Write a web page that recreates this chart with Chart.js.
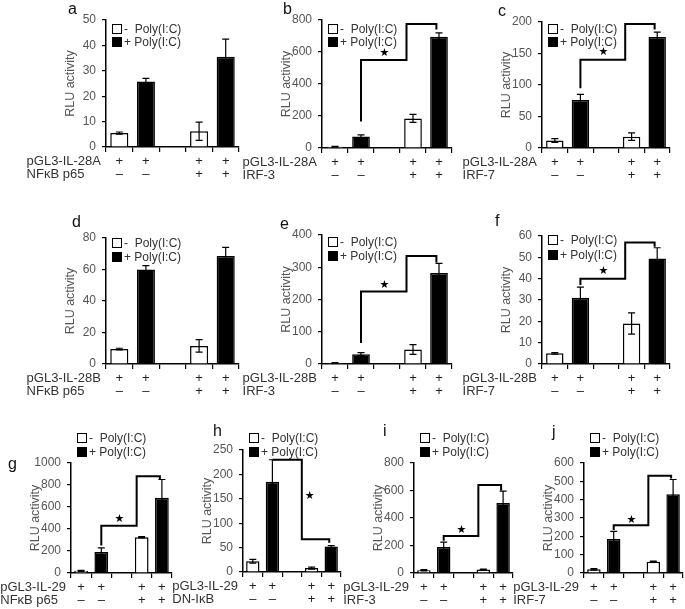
<!DOCTYPE html>
<html>
<head>
<meta charset="utf-8">
<script src="https://cdn.jsdelivr.net/npm/chart.js@4.4.1/dist/chart.umd.min.js"></script>
<style>
    body { margin: 0; background: #fff; width: 685px; height: 609px; position: relative; overflow: hidden; }
    canvas { position: absolute; }
</style>
</head>
<body>
<script>
// shared categories (5 slots, middle one is the gap)
var categories = [["+", "–"], ["+", "–"], "", ["+", "+"], ["+", "+"]];
var seriesNames = ["-  Poly(I:C)", "+ Poly(I:C)"];
var seriesOf = [0, 1, null, 0, 1];

// a
var aMeans = [5.5, 25.8, null, 6.2, 35.5];
var aErrors = [0.4, 1.2, null, 3.6, 7];
var aTicks = [0, 10, 20, 30, 40, 50];
var aRows = ["pGL3-IL-28A", "NFκB p65"];
// b
var bMeans = [8, 72, null, 185, 695];
var bErrors = [3, 10, null, 25, 25];
var bTicks = [0, 200, 400, 600, 800];
var bRows = ["pGL3-IL-28A", "IRF-3"];
var bBracket = [[1, 165], [1, 550], [2.75, 550], [2.75, 775], [3.9, 775], [3.9, 740]];
var bStar = [1.9, 595];
// c
var cMeans = [12, 76, null, 18, 176];
var cErrors = [3, 9, null, 6, 8];
var cTicks = [0, 50, 100, 150, 200];
var cRows = ["pGL3-IL-28A", "IRF-7"];
var cBracket = [[1, 95], [1, 140], [2.75, 140], [2.75, 197], [3.9, 197], [3.9, 188]];
var cStar = [1.9, 152];
// d
var dMeans = [9.5, 60, null, 11.5, 68.5];
var dErrors = [0.5, 2.5, null, 4, 5.5];
var dTicks = [0, 20, 40, 60, 80];
var dRows = ["pGL3-IL-28B", "NFκB p65"];
// e
var eMeans = [3, 30, null, 45, 282];
var eErrors = [1, 5, null, 15, 30];
var eTicks = [0, 100, 200, 300, 400];
var eRows = ["pGL3-IL-28B", "IRF-3"];
var eBracket = [[1, 65], [1, 225], [2.75, 225], [2.75, 335], [3.9, 335], [3.9, 315]];
var eStar = [1.9, 245];
// f
var fMeans = [5, 31, null, 19, 49.5];
var fErrors = [0.4, 5, null, 5, 5];
var fTicks = [0, 10, 20, 30, 40, 50, 60];
var fRows = ["pGL3-IL-28B", "IRF-7"];
var fBracket = [[1, 37], [1, 40], [2.75, 40], [2.75, 57], [3.9, 57], [3.9, 55]];
var fStar = [1.9, 43.5];
// g
var gMeans = [20, 190, null, 325, 685];
var gErrors = [5, 38, null, 5, 165];
var gTicks = [0, 200, 400, 600, 800, 1000];
var gRows = ["pGL3-IL-29", "NFκB p65"];
var gBracket = [[1, 250], [1, 430], [2.75, 430], [2.75, 880], [3.9, 880], [3.9, 855]];
var gStar = [1.9, 490];
// h
var hMeans = [22, 185, null, 8, 52];
var hErrors = [4, 45, null, 2, 2];
var hTicks = [0, 50, 100, 150, 200, 250];
var hRows = ["pGL3-IL-29", "DN-IκB"];
var hBracket = [[1, 230], [2.5, 230], [2.5, 67], [3.9, 67], [3.9, 60]];
var hStar = [2.9, 155];
// i
var iMeans = [20, 190, null, 25, 510];
var iErrors = [4, 35, null, 3, 85];
var iTicks = [0, 200, 400, 600, 800];
var iRows = ["pGL3-IL-29", "IRF-3"];
var iBracket = [[1, 235], [1, 270], [2.75, 270], [2.75, 640], [3.9, 640], [3.9, 600]];
var iStar = [1.9, 315];
// j
var jMeans = [20, 185, null, 62, 430];
var jErrors = [4, 42, null, 3, 80];
var jTicks = [0, 100, 200, 300, 400, 500, 600];
var jRows = ["pGL3-IL-29", "IRF-7"];
var jBracket = [[1, 235], [1, 260], [2.75, 260], [2.75, 530], [3.9, 530], [3.9, 515]];
var jStar = [1.9, 290];

var panels = [
    { id: "a", means: aMeans, errors: aErrors, ticks: aTicks, rows: aRows, bracket: null, star: null,
      axis: 106, top: 20, bottom: 147, w: 133, legY: [29, 42], letter: [68, 10] },
    { id: "b", means: bMeans, errors: bErrors, ticks: bTicks, rows: bRows, bracket: bBracket, star: bStar,
      axis: 322, top: 20, bottom: 148, w: 130, legY: [29, 42], letter: [283, 10] },
    { id: "c", means: cMeans, errors: cErrors, ticks: cTicks, rows: cRows, bracket: cBracket, star: cStar,
      axis: 542, top: 22, bottom: 148, w: 128, legY: [29, 42], letter: [498, 12] },
    { id: "d", means: dMeans, errors: dErrors, ticks: dTicks, rows: dRows, bracket: null, star: null,
      axis: 106, top: 238, bottom: 364, w: 133, legY: [243, 257], letter: [72, 223] },
    { id: "e", means: eMeans, errors: eErrors, ticks: eTicks, rows: eRows, bracket: eBracket, star: eStar,
      axis: 322, top: 235, bottom: 364, w: 130, legY: [242, 256], letter: [280, 225] },
    { id: "f", means: fMeans, errors: fErrors, ticks: fTicks, rows: fRows, bracket: fBracket, star: fStar,
      axis: 542, top: 236, bottom: 364, w: 128, legY: [240, 255], letter: [495, 222] },
    { id: "g", means: gMeans, errors: gErrors, ticks: gTicks, rows: gRows, bracket: gBracket, star: gStar,
      axis: 71, top: 463, bottom: 573, w: 101, legY: [438, 452], letter: [8, 465] },
    { id: "h", means: hMeans, errors: hErrors, ticks: hTicks, rows: hRows, bracket: hBracket, star: hStar,
      axis: 243, top: 450, bottom: 572, w: 98, legY: [438, 452], letter: [213, 432] },
    { id: "i", means: iMeans, errors: iErrors, ticks: iTicks, rows: iRows, bracket: iBracket, star: iStar,
      axis: 414, top: 463, bottom: 573, w: 99, legY: [438, 452], letter: [383, 432] },
    { id: "j", means: jMeans, errors: jErrors, ticks: jTicks, rows: jRows, bracket: jBracket, star: jStar,
      axis: 584, top: 463, bottom: 573, w: 99, legY: [438, 452], letter: [552, 433] }
];

var FONT = "'Liberation Sans', Arial, sans-serif";
var PAD_L = 110, PAD_T = 45, PAD_R = 14, PAD_B = 45;
var Y_W = 47, X_H = 34, TICK_X = 5, TICK_PAD = 3, LINE_H = 13;

function series(values, s) {
    return values.map(function (v, i) { return seriesOf[i] === s ? v : null; });
}

function panelPlugin(p, cl, ct) {
    return {
        id: "panel_" + p.id,
        afterDatasetsDraw: function (chart) {
            var ctx = chart.ctx, x = chart.scales.x, y = chart.scales.y;
            ctx.save();
            // error bars
            ctx.strokeStyle = "#000";
            ctx.lineWidth = 1.2;
            chart.data.datasets.forEach(function (ds, di) {
                var meta = chart.getDatasetMeta(di);
                ds.errors.forEach(function (e, i) {
                    if (ds.data[i] == null || e == null) return;
                    var px = meta.data[i].x;
                    var t = y.getPixelForValue(ds.data[i] + e);
                    var b = y.getPixelForValue(Math.max(ds.data[i] - e, 0));
                    ctx.beginPath();
                    ctx.moveTo(px, b); ctx.lineTo(px, t);
                    ctx.moveTo(px - 3.5, t); ctx.lineTo(px + 3.5, t);
                    ctx.moveTo(px - 3.5, b); ctx.lineTo(px + 3.5, b);
                    ctx.stroke();
                });
            });
            // significance bracket
            if (p.bracket) {
                ctx.lineWidth = 2;
                ctx.lineJoin = "miter";
                ctx.beginPath();
                p.bracket.forEach(function (pt, k) {
                    var px = x.getPixelForValue(pt[0]), py = y.getPixelForValue(pt[1]);
                    if (k === 0) ctx.moveTo(px, py); else ctx.lineTo(px, py);
                });
                ctx.stroke();
                ctx.fillStyle = "#000";
                ctx.font = "11px 'DejaVu Sans', sans-serif";
                ctx.textAlign = "center";
                ctx.textBaseline = "middle";
                ctx.fillText("★", x.getPixelForValue(p.star[0]), y.getPixelForValue(p.star[1]));
            }
            ctx.restore();
        },
        afterDraw: function (chart) {
            var ctx = chart.ctx, area = chart.chartArea, x = chart.scales.x;
            ctx.save();
            // legend
            var lx = area.left + 6;
            chart.data.datasets.forEach(function (ds, di) {
                var cy = p.legY[di] - ct;
                ctx.fillStyle = ds.backgroundColor;
                ctx.fillRect(lx, cy - 5, 10, 10);
                ctx.strokeStyle = "#000";
                ctx.lineWidth = 1;
                ctx.strokeRect(lx + 0.5, cy - 4.5, 9, 9);
                ctx.fillStyle = "#333";
                ctx.font = "12px " + FONT;
                ctx.textAlign = "left";
                ctx.textBaseline = "middle";
                ctx.fillText(ds.label, lx + 12, cy + 0.5);
            });
            // row names left of the +/- rows
            ctx.font = "13px " + FONT;
            ctx.fillStyle = "#333";
            ctx.textAlign = "left";
            ctx.textBaseline = "middle";
            var left = area.left - 5 - ctx.measureText(p.rows[0]).width;
            p.rows.forEach(function (r, i) {
                ctx.fillText(r, left, x.top + TICK_X + TICK_PAD + LINE_H * (i + 0.5));
            });
            // panel letter
            ctx.font = "16px " + FONT;
            ctx.fillStyle = "#111";
            ctx.fillText(p.id, p.letter[0] - cl, p.letter[1] - ct);
            ctx.restore();
        }
    };
}

panels.forEach(function (p) {
    var cl = p.axis - PAD_L, ct = p.top - PAD_T;
    var canvas = document.createElement("canvas");
    canvas.width = PAD_L + p.w + PAD_R;
    canvas.height = PAD_T + (p.bottom - p.top) + PAD_B;
    canvas.style.left = cl + "px";
    canvas.style.top = ct + "px";
    document.body.appendChild(canvas);

    new Chart(canvas, {
        type: "bar",
        data: {
            labels: categories,
            datasets: [
                { label: seriesNames[0], data: series(p.means, 0), errors: series(p.errors, 0),
                  backgroundColor: "#fff", borderColor: "#000", borderWidth: 1.5 },
                { label: seriesNames[1], data: series(p.means, 1), errors: series(p.errors, 1),
                  backgroundColor: "#000", borderColor: "#000", borderWidth: 1.5 }
            ]
        },
        options: {
            responsive: false,
            animation: false,
            events: [],
            layout: { padding: { left: PAD_L - Y_W, top: PAD_T, right: PAD_R, bottom: PAD_B - X_H } },
            datasets: { bar: { grouped: false, categoryPercentage: 0.68, barPercentage: 1 } },
            plugins: { legend: { display: false }, tooltip: { enabled: false } },
            scales: {
                x: {
                    afterFit: function (s) { s.height = X_H; },
                    border: { display: true, color: "#000", width: 1.5 },
                    grid: { offset: true, drawOnChartArea: false, drawTicks: true, tickLength: TICK_X, color: "#000", lineWidth: 1.2 },
                    ticks: { autoSkip: false, maxRotation: 0, padding: TICK_PAD, color: "#222",
                             font: { family: FONT, size: 13, lineHeight: LINE_H / 13 } }
                },
                y: {
                    min: p.ticks[0],
                    max: p.ticks[p.ticks.length - 1],
                    afterFit: function (s) { s.width = Y_W; },
                    border: { display: true, color: "#000", width: 1.5 },
                    grid: { drawOnChartArea: false, drawTicks: true, tickLength: 4, color: "#000", lineWidth: 1.2 },
                    ticks: { stepSize: p.ticks[1] - p.ticks[0], padding: 6, color: "#555",
                             font: { family: FONT, size: 12 },
                             callback: function (value) { return String(value); } },
                    title: { display: true, text: "RLU activity", color: "#555",
                             font: { family: FONT, size: 12.5 }, padding: { top: 4, bottom: 4 } }
                }
            }
        },
        plugins: [panelPlugin(p, cl, ct)]
    });
});
</script>
</body>
</html>
